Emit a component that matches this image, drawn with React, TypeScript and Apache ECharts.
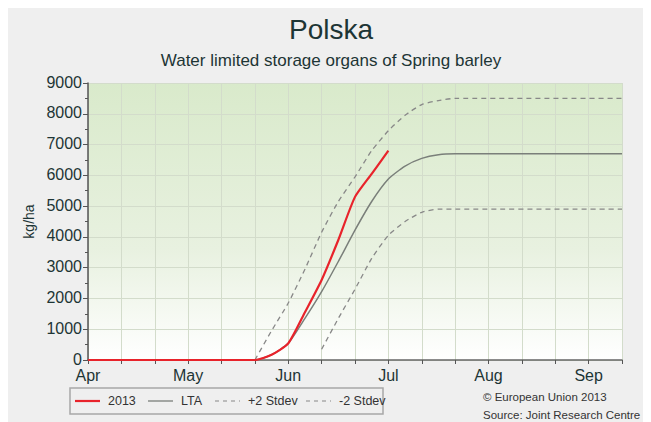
import React, { useEffect, useRef } from "react";
import * as echarts from "echarts";

const monthLabels = ["Apr", "May", "Jun", "Jul", "Aug", "Sep"];
const yTicks = [0, 1000, 2000, 3000, 4000, 5000, 6000, 7000, 8000, 9000];
const legendNames = ["2013", "LTA", "+2 Stdev", "-2 Stdev"];

// x = dekad index from 1 April
const y2013X = [0, 1, 2, 3, 4, 5, 5.5, 6, 6.5, 7, 7.5, 8, 8.5, 9];
const y2013V = [0, 0, 0, 0, 0, 0, 170, 540, 1550, 2600, 3900, 5300, 6050, 6800];

const ltaX = [0, 5, 5.5, 6, 6.5, 7, 7.5, 8, 8.5, 9, 9.5, 10, 10.5, 11, 16];
const ltaV = [0, 0, 170, 540, 1350, 2220, 3200, 4220, 5150, 5880, 6300, 6550, 6670, 6700, 6700];

const plusX = [5, 5.5, 6, 6.5, 7, 7.5, 8, 8.5, 9, 9.5, 10, 10.5, 11, 16];
const plusV = [0, 950, 1850, 2950, 4150, 5150, 5950, 6800, 7450, 7950, 8300, 8430, 8500, 8500];

const minusX = [7, 7.5, 8, 8.5, 9, 9.5, 10, 10.5, 11, 16];
const minusV = [350, 1350, 2300, 3300, 4050, 4500, 4800, 4900, 4900, 4900];

const zip = (xs: number[], vs: number[]) => xs.map((x, i) => [x, vs[i]]);

export default function App() {
  const ref = useRef<HTMLDivElement>(null);
  useEffect(() => {
    if (!ref.current) return;
    const chart = echarts.init(ref.current, null, { renderer: "svg" });
    const font = "Liberation Sans, Arial, sans-serif";
    const textColor = "#1d3535";
    const red = "#e8232b";
    const ltaColor = "#7a7f7a";
    const dashColor = "#888";

    const legendItems = [
      { name: legendNames[0], x: 67, color: red, width: 2.2, dash: null as any },
      { name: legendNames[1], x: 140, color: ltaColor, width: 1.3, dash: null as any },
      { name: legendNames[2], x: 207, color: dashColor, width: 1.2, dash: [4, 4] },
      { name: legendNames[3], x: 298, color: dashColor, width: 1.2, dash: [4, 4] },
    ];
    const legendGraphics: any[] = [
      {
        type: "rect",
        shape: { x: 62, y: 380, width: 313, height: 26 },
        style: { fill: "none", stroke: "#a8a8a8", lineWidth: 1.5 },
      },
    ];
    legendItems.forEach((it) => {
      legendGraphics.push({
        type: "line",
        shape: { x1: it.x, y1: 393, x2: it.x + 25, y2: 393 },
        style: { stroke: it.color, lineWidth: it.width, lineDash: it.dash },
      });
      legendGraphics.push({
        type: "text",
        x: it.x + 33,
        y: 393,
        style: {
          text: it.name,
          fontSize: 12.5,
          fill: "#333",
          fontFamily: font,
          verticalAlign: "middle",
        },
      });
    });

    chart.setOption({
      animation: false,
      backgroundColor: "#efefef",
      textStyle: { fontFamily: font },
      title: [
        {
          text: "Polska",
          left: 318,
          top: 2,
          textAlign: "center",
          textStyle: { fontSize: 28, fontWeight: "normal", color: textColor, fontFamily: font },
        },
        {
          text: "Water limited storage organs of Spring barley",
          left: 318,
          top: 39,
          textAlign: "center",
          textStyle: { fontSize: 17, fontWeight: "normal", color: textColor, fontFamily: font },
        },
      ],
      grid: {
        left: 80,
        top: 75,
        right: 29,
        bottom: 62,
        show: true,
        borderWidth: 0,
        backgroundColor: {
          type: "linear",
          x: 0,
          y: 0,
          x2: 0,
          y2: 1,
          colorStops: [
            { offset: 0, color: "#d9eacb" },
            { offset: 0.6, color: "#e8f1e0" },
            { offset: 1, color: "#ffffff" },
          ],
        },
      },
      xAxis: {
        type: "value",
        min: 0,
        max: 16,
        interval: 1,
        axisLine: { show: true, onZero: false, lineStyle: { color: "#666", width: 1.5 } },
        axisTick: { show: true, length: 4, lineStyle: { color: "#555" } },
        axisLabel: {
          fontSize: 16,
          color: textColor,
          margin: 7,
          formatter: (v: number) => (v % 3 === 0 ? monthLabels[v / 3] || "" : ""),
        },
        splitLine: { show: true, lineStyle: { color: "#d3dccb", width: 1 } },
      },
      yAxis: {
        type: "value",
        min: yTicks[0],
        max: yTicks[yTicks.length - 1],
        interval: 1000,
        name: "kg/ha",
        nameLocation: "middle",
        nameGap: 46,
        nameRotate: 90,
        nameTextStyle: { fontSize: 14, color: textColor, fontFamily: font },
        axisLine: { show: true, lineStyle: { color: "#555", width: 1.5 } },
        axisTick: { show: true, length: 5, lineStyle: { color: "#555" } },
        minorTick: { show: true, splitNumber: 2, length: 3, lineStyle: { color: "#555" } },
        axisLabel: {
          fontSize: 16,
          color: textColor,
          margin: 6,
          verticalAlign: "bottom",
          lineHeight: 16,
          padding: [0, 0, -7, 0],
          formatter: (v: number) => String(v),
        },
        splitLine: { show: true, lineStyle: { color: "#d3dccb", width: 1 } },
      },
      graphic: [
        ...legendGraphics,
        {
          type: "text",
          left: 475,
          top: 383,
          style: { text: "© European Union 2013", fontSize: 11.5, fill: "#333", fontFamily: font },
        },
        {
          type: "text",
          left: 475,
          top: 401,
          style: { text: "Source: Joint Research Centre", fontSize: 11.5, fill: "#333", fontFamily: font },
        },
      ],
      series: [
        {
          name: "LTA",
          type: "line",
          symbol: "none",
          smooth: 0.2,
          data: zip(ltaX, ltaV),
          lineStyle: { color: ltaColor, width: 1.5 },
          itemStyle: { color: ltaColor },
          z: 2,
        },
        {
          name: "+2 Stdev",
          type: "line",
          symbol: "none",
          smooth: 0.2,
          data: zip(plusX, plusV),
          lineStyle: { color: dashColor, width: 1.3, type: [5, 4] },
          itemStyle: { color: dashColor },
          z: 2,
        },
        {
          name: "-2 Stdev",
          type: "line",
          symbol: "none",
          smooth: 0.2,
          data: zip(minusX, minusV),
          lineStyle: { color: dashColor, width: 1.3, type: [5, 4] },
          itemStyle: { color: dashColor },
          z: 2,
        },
        {
          name: "2013",
          type: "line",
          symbol: "none",
          smooth: 0.2,
          data: zip(y2013X, y2013V),
          lineStyle: { color: red, width: 2.2 },
          itemStyle: { color: red },
          z: 3,
        },
      ],
    });
    return () => chart.dispose();
  }, []);
  return <div ref={ref} style={{ width: 643, height: 414 }} />;
}
